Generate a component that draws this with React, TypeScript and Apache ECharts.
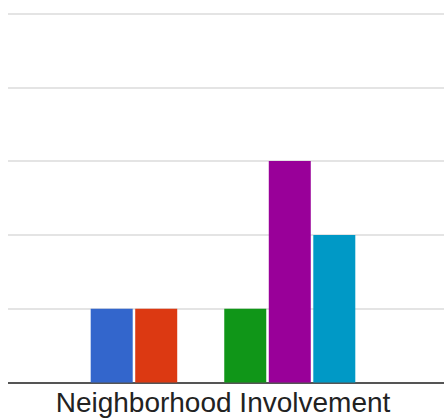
import React, { useEffect, useRef } from "react";
import * as echarts from "echarts";

// Single category, six series; the orange series is zero.
const categories = ["Neighborhood Involvement"];
const seriesNames = ["A", "B", "C", "D", "E", "F"];
const seriesValues = [[1], [1], [0], [1], [3], [2]];
const seriesColors = ["#3366cc", "#dc3912", "#ff9900", "#109618", "#990099", "#0099c6"];

export default function App() {
  const ref = useRef<HTMLDivElement>(null);

  useEffect(() => {
    if (!ref.current) return;
    const chart = echarts.init(ref.current, null, { renderer: "svg" });
    chart.setOption({
      animation: false,
      backgroundColor: "#ffffff",
      grid: { left: 2, right: 0, top: 13.5, bottom: 35.5, containLabel: false },
      // white margin strip so the rules start a little in from the left edge
      graphic: [
        {
          type: "rect",
          left: 0,
          top: 0,
          z: 100,
          shape: { width: 8, height: 390 },
          style: { fill: "#ffffff" },
        },
      ],
      xAxis: {
        type: "category",
        data: categories,
        axisTick: { show: false },
        axisLine: { show: true, lineStyle: { color: "#555555", width: 2 } },
        axisLabel: {
          color: "#222222",
          fontSize: 28,
          fontFamily: "'Liberation Sans', Arial, sans-serif",
          margin: 6,
        },
      },
      yAxis: {
        type: "value",
        min: 0,
        max: 5,
        interval: 1,
        axisLabel: { show: false },
        axisLine: { show: false },
        axisTick: { show: false },
        splitLine: { show: true, lineStyle: { color: "#e4e4e4", width: 2 } },
      },
      series: seriesNames.map((name, i) => ({
        name,
        type: "bar",
        data: seriesValues[i],
        barWidth: 42,
        barGap: "6%",
        itemStyle: { color: seriesColors[i] },
      })),
    });
    return () => chart.dispose();
  }, []);

  return (
    <div
      ref={ref}
      style={{ position: "fixed", left: 0, top: 0, width: 444, height: 418 }}
    />
  );
}
